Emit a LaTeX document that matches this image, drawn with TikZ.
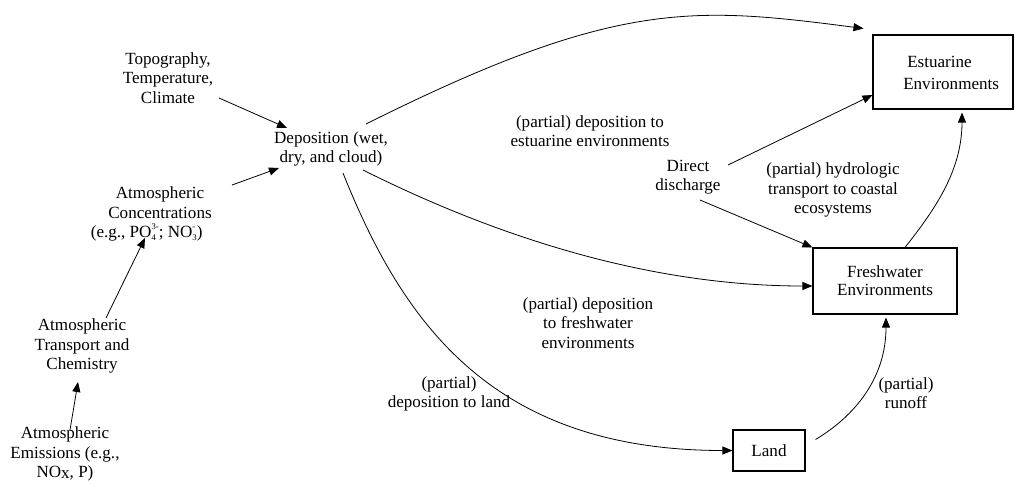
\documentclass[tikz,border=0pt]{standalone}
\usepackage{fontspec}
\setmainfont{Liberation Serif}
\usetikzlibrary{arrows.meta,calc}
\newcommand\SubSup[2]{\raisebox{-2.5pt}{\fontsize{6.5}{7}\selectfont\shortstack[l]{#2\\[1pt]#1}}}
\tikzset{
  txt/.style={inner sep=0pt, align=center, font=\fontsize{12.8}{14.6}\selectfont},
  boxed/.style={draw, line width=0.8pt, inner sep=0pt, align=center, font=\fontsize{12.8}{13.6}\selectfont},
  arr/.style={line width=0.6pt, -{Triangle[length=7.5pt,width=6pt]}},
}
\begin{document}
\begin{tikzpicture}[x=0.75pt,y=-0.75pt]
\useasboundingbox (0,0) rectangle (1015,483);
% nodes
\node[txt] (topo) at (168,78) {Topography,\\Temperature,\\Climate};
\node[txt] (dep) at (331,149) {Deposition (wet,\\dry, and cloud)};
\node[txt] (conc) at (160,214) {Atmospheric\\Concentrations\\(e.g., PO\SubSup{4}{3-}; NO\SubSup{3}{-})\hspace*{20pt}};
\node[txt] (trans) at (82,346) {Atmospheric\\Transport and\\Chemistry};
\node[txt] (emis) at (65,454) {Atmospheric\\Emissions (e.g.,\\NO\raisebox{-0.8pt}{x}, P)};
\node[txt] (direct) at (688,177) {Direct\\discharge};
\node[boxed, minimum width=105pt, minimum height=55.5pt] (estu) at (943,72) {};
\node[txt, align=left, anchor=west, font=\fontsize{12.8}{17}\selectfont] (estutext) at (903,73) {\hspace*{3pt}Estuarine\\Environments};
\node[boxed, minimum width=108pt, minimum height=49.5pt] (fresh) at (885,281) {Freshwater\\Environments};
\node[boxed, minimum width=54pt, minimum height=30.75pt] (land) at (769,450.5) {Land};
% labels
\node[txt] (lblest) at (590,131) {(partial) deposition to\\estuarine environments};
\node[txt] (lblfresh) at (588,323) {(partial) deposition\\to freshwater\\environments};
\node[txt] (lblland) at (449,394) {(partial)\\deposition to land};
\node[txt] (lblrun) at (906,393) {(partial)\\runoff};
\node[txt] (lblhyd) at (833,190) {(partial) hydrologic\\transport to coastal\\ecosystems};
% connectors
\draw[arr] ($(topo)+(51,20)$) -- ($(dep)+(-44,-21)$);
\draw[arr] ($(conc)+(72,-29)$) -- ($(dep)+(-52,19)$);
\draw[arr] ($(trans)+(24,-28)$) -- ($(conc)+(-15,24)$);
\draw[arr] ($(emis)+(5,-24)$) -- ($(trans)+(-4,36)$);
\draw[arr] ($(dep)+(35,-25)$) .. controls +(250,-125) and +(-170,-22) .. ($(estu.north west)+(-9,-6)$);
\draw[arr] ($(dep)+(32,21)$) .. controls +(150,75) and +(-150,0) .. ($(fresh.west)+(0,5)$);
\draw[arr] ($(dep)+(12,24)$) .. controls +(60,150) and +(-240,0) .. ($(land.west)+(0,0)$);
\draw[arr] ($(land.east)+(10,-11)$) .. controls +(40,-24) and +(0,60) .. ($(fresh.south)+(1,3)$);
\draw[arr] ($(fresh.north)+(20,0)$) .. controls +(30,-38) and +(0,58) .. ($(estu.south)+(19,3)$);
\draw[arr] ($(direct)+(40,-12)$) -- ($(estu.west)+(0,23)$);
\draw[arr] ($(direct)+(12,23)$) -- (fresh.north west);
\end{tikzpicture}
\end{document}
